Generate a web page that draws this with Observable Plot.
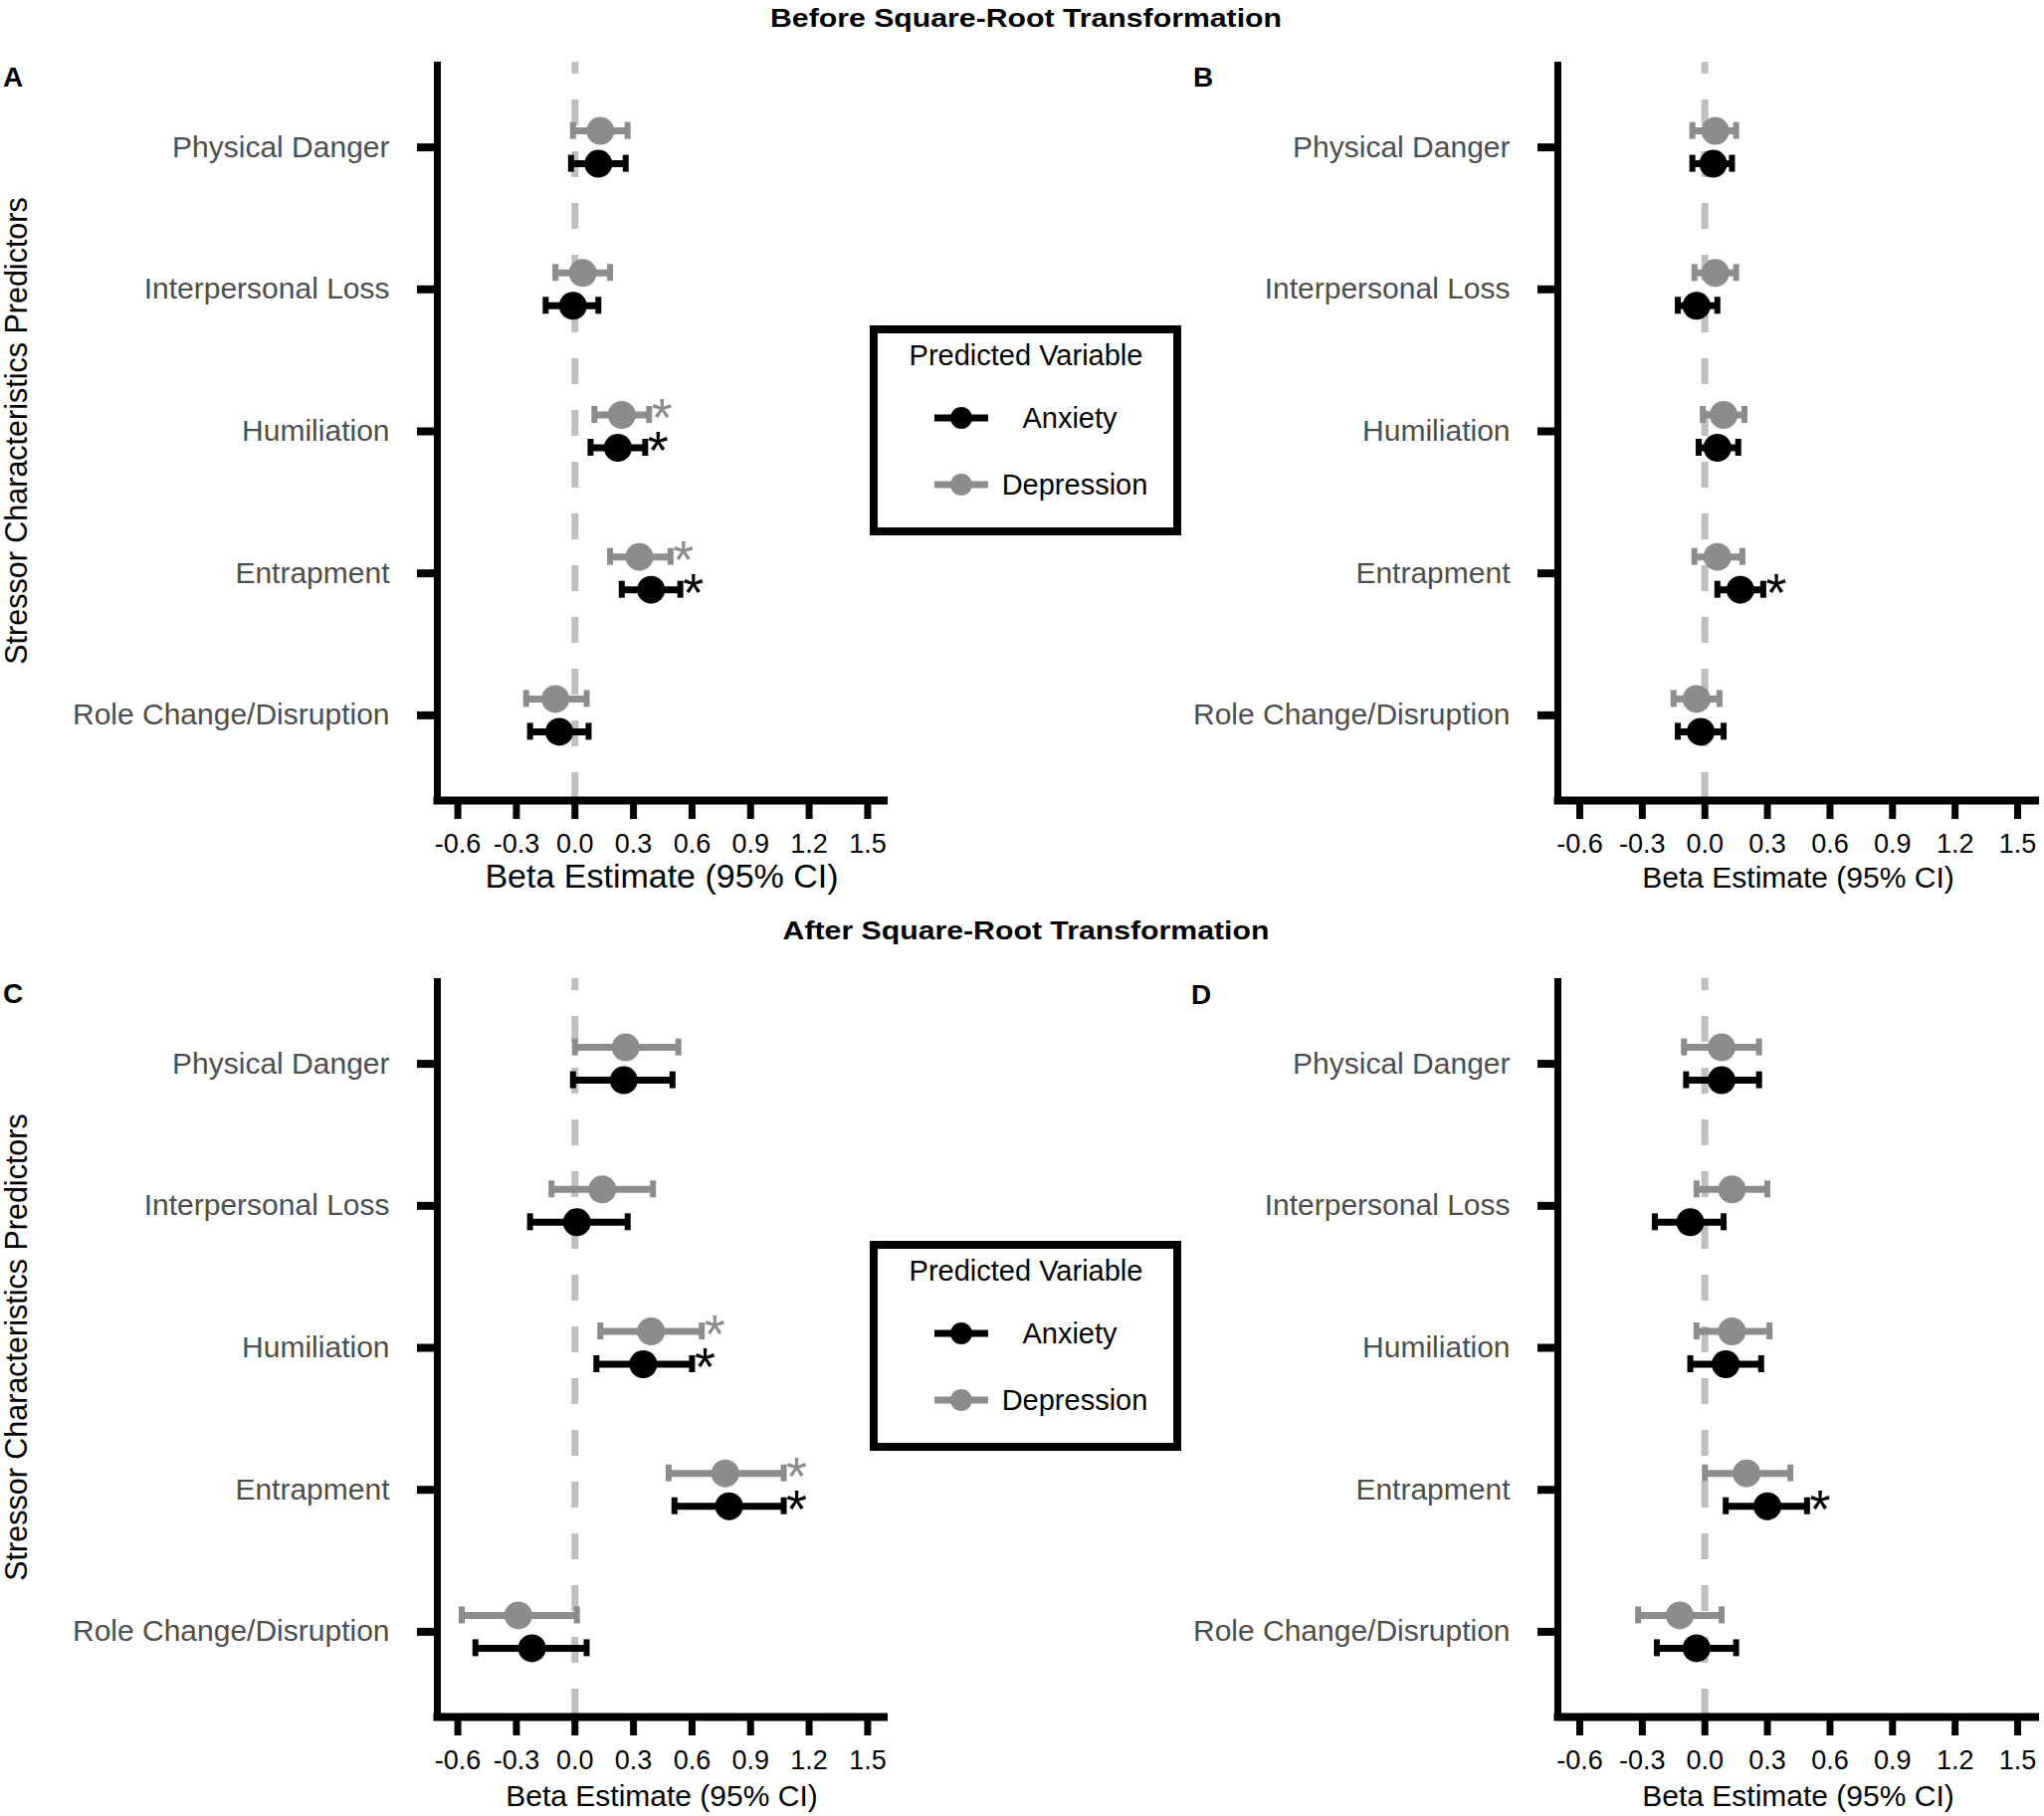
<!DOCTYPE html>
<html>
<head>
<meta charset="utf-8">
<script src="https://cdn.jsdelivr.net/npm/d3@7"></script>
<script src="https://cdn.jsdelivr.net/npm/@observablehq/plot@0.6"></script>
<style>
  html, body { margin: 0; padding: 0; background: #fff; overflow: hidden; }
  #figure { position: relative; width: 2054px; height: 1825px; background: #fff; }
  .panel { position: absolute; }
  .panel svg { display: block; max-width: none; }
  #annotations { position: absolute; left: 0; top: 0; pointer-events: none; }
</style>
</head>
<body>
<div id="figure"></div>
<script>
// Stressor characteristics (rows, top to bottom) and predicted outcomes
const categories = ["Physical Danger", "Interpersonal Loss", "Humiliation", "Entrapment", "Role Change/Disruption"];
const outcomes = ["Anxiety", "Depression"];
const xTicks = [-0.6, -0.3, 0.0, 0.3, 0.6, 0.9, 1.2, 1.5];
const xDomain = [-0.705, 1.605];
const yDomain = [5.6, 0.4];

// Beta estimates as [estimate, lower 95% CI, upper 95% CI], in category order
// A: before square-root transformation
const panelA_anxiety    = [[0.12, -0.02, 0.26], [-0.01, -0.15, 0.12], [0.22, 0.08, 0.36], [0.39, 0.24, 0.54], [-0.08, -0.23, 0.07]];
const panelA_depression = [[0.13, -0.01, 0.27], [0.04, -0.10, 0.18], [0.24, 0.10, 0.38], [0.33, 0.18, 0.49], [-0.10, -0.25, 0.06]];
const panelA_anxietySig    = [0, 0, 1, 1, 0];
const panelA_depressionSig = [0, 0, 1, 1, 0];

// B: before square-root transformation
const panelB_anxiety    = [[0.04, -0.06, 0.13], [-0.04, -0.13, 0.06], [0.06, -0.03, 0.16], [0.17, 0.06, 0.28], [-0.02, -0.13, 0.09]];
const panelB_depression = [[0.05, -0.06, 0.15], [0.05, -0.05, 0.15], [0.09, -0.01, 0.19], [0.06, -0.05, 0.18], [-0.04, -0.15, 0.07]];
const panelB_anxietySig    = [0, 0, 0, 1, 0];
const panelB_depressionSig = [0, 0, 0, 0, 0];

// C: after square-root transformation
const panelC_anxiety    = [[0.25, -0.01, 0.50], [0.01, -0.23, 0.27], [0.35, 0.11, 0.60], [0.79, 0.51, 1.07], [-0.22, -0.51, 0.06]];
const panelC_depression = [[0.26, 0.00, 0.53], [0.14, -0.12, 0.40], [0.39, 0.13, 0.65], [0.77, 0.48, 1.07], [-0.29, -0.58, 0.01]];
const panelC_anxietySig    = [0, 0, 1, 1, 0];
const panelC_depressionSig = [0, 0, 1, 1, 0];

// D: after square-root transformation
const panelD_anxiety    = [[0.08, -0.09, 0.26], [-0.07, -0.24, 0.09], [0.10, -0.07, 0.27], [0.30, 0.10, 0.49], [-0.04, -0.23, 0.15]];
const panelD_depression = [[0.08, -0.10, 0.26], [0.13, -0.04, 0.30], [0.13, -0.04, 0.31], [0.20, 0.00, 0.41], [-0.12, -0.32, 0.08]];
const panelD_anxietySig    = [0, 0, 0, 1, 0];
const panelD_depressionSig = [0, 0, 0, 0, 0];

const colors = {Anxiety: "#000000", Depression: "#8c8c8c"};
const dodge = {Anxiety: 16.5, Depression: -16.5}; // vertical dodge in px
const FONT = "'Liberation Sans', Arial, Helvetica, sans-serif";

function buildRows(anx, dep, anxSig, depSig) {
  const rows = [];
  categories.forEach((c, i) => {
    rows.push({category: c, idx: i + 1, outcome: "Anxiety", est: anx[i][0], lo: anx[i][1], hi: anx[i][2], sig: !!anxSig[i]});
    rows.push({category: c, idx: i + 1, outcome: "Depression", est: dep[i][0], lo: dep[i][1], hi: dep[i][2], sig: !!depSig[i]});
  });
  return rows;
}

function forestPanel(rows, {width, marginLeft, marginRight}) {
  const marks = [
    // reference line at zero
    Plot.ruleX([0], {stroke: "#bfbfbf", strokeWidth: 7, strokeDasharray: "26,26", strokeDashoffset: 14}),
    // axis lines
    Plot.ruleX([xDomain[0]], {stroke: "#000", strokeWidth: 7}),
    Plot.ruleY([yDomain[0]], {stroke: "#000", strokeWidth: 8, insetLeft: -3.5}),
    Plot.axisX({
      ticks: xTicks, tickFormat: d => d.toFixed(1), tickSize: 19, tickPadding: 14,
      stroke: "#000", fill: "#000", strokeWidth: 7, fontSize: 27, label: null
    }),
    Plot.axisY({
      ticks: categories.map((c, i) => i + 1), tickFormat: i => categories[i - 1],
      tickSize: 20, tickPadding: 28, stroke: "#000", fill: "#4d4d4d", strokeWidth: 8, fontSize: 30, label: null
    })
  ];
  for (const o of outcomes) {
    const data = rows.filter(d => d.outcome === o);
    const dy = dodge[o], c = colors[o];
    marks.push(
      Plot.ruleY(data, {x1: "lo", x2: "hi", y: "idx", dy, stroke: c, strokeWidth: 7}),
      Plot.ruleX(data, {x: "lo", y1: "idx", y2: "idx", dy, insetTop: -8.5, insetBottom: -8.5, stroke: c, strokeWidth: 6}),
      Plot.ruleX(data, {x: "hi", y1: "idx", y2: "idx", dy, insetTop: -8.5, insetBottom: -8.5, stroke: c, strokeWidth: 6}),
      Plot.dot(data, {x: "est", y: "idx", dy, r: 14, fill: c}),
      Plot.text(data.filter(d => d.sig), {x: "hi", y: "idx", text: () => "*", dx: 13, dy: dy + 4, fill: c, fontSize: 54})
    );
  }
  return Plot.plot({
    width, height: 920,
    marginLeft, marginRight, marginTop: 62, marginBottom: 116,
    style: {background: "transparent", fontFamily: FONT, overflow: "visible"},
    x: {domain: xDomain, label: null},
    y: {domain: yDomain, label: null},
    marks
  });
}

const figure = document.getElementById("figure");
function place(node, left, top) {
  const div = document.createElement("div");
  div.className = "panel";
  div.style.left = left + "px";
  div.style.top = top + "px";
  div.appendChild(node);
  figure.appendChild(div);
}

const leftGeom = {width: 900, marginLeft: 439, marginRight: 8};
const rightGeom = {width: 1054, marginLeft: 565, marginRight: 5};

place(forestPanel(buildRows(panelA_anxiety, panelA_depression, panelA_anxietySig, panelA_depressionSig), leftGeom), 0, 0);
place(forestPanel(buildRows(panelB_anxiety, panelB_depression, panelB_anxietySig, panelB_depressionSig), rightGeom), 1000, 0);
place(forestPanel(buildRows(panelC_anxiety, panelC_depression, panelC_anxietySig, panelC_depressionSig), leftGeom), 0, 921);
place(forestPanel(buildRows(panelD_anxiety, panelD_depression, panelD_anxietySig, panelD_depressionSig), rightGeom), 1000, 921);

// Titles, panel letters, axis titles and legends
const NS = "http://www.w3.org/2000/svg";
const ann = d3.select(figure).append("svg")
  .attr("id", "annotations")
  .attr("xmlns", NS)
  .attr("width", 2054).attr("height", 1825)
  .style("font-family", FONT);

function label(text, x, y, {size = 30, weight = "normal", anchor = "middle", fill = "#000", transform = ""} = {}) {
  ann.append("text")
    .attr("transform", `translate(${x},${y})${transform}`)
    .attr("text-anchor", anchor)
    .attr("font-size", size)
    .attr("font-weight", weight)
    .attr("fill", fill)
    .text(text);
}

label("Before Square-Root Transformation", 1031, 27, {size: 25, weight: "bold", transform: " scale(1.21,1)"});
label("After Square-Root Transformation", 1031, 944, {size: 25, weight: "bold", transform: " scale(1.21,1)"});

label("A", 3, 87, {size: 28, weight: "bold", anchor: "start"});
label("B", 1199, 87, {size: 28, weight: "bold", anchor: "start"});
label("C", 3, 1008, {size: 28, weight: "bold", anchor: "start"});
label("D", 1197, 1009, {size: 28, weight: "bold", anchor: "start"});

label("Stressor Characteristics Predictors", 27, 433, {size: 30.5, transform: " rotate(-90)"});
label("Stressor Characteristics Predictors", 27, 1354, {size: 30.5, transform: " rotate(-90)"});

label("Beta Estimate (95% CI)", 665, 892, {size: 34});
label("Beta Estimate (95% CI)", 1807, 892, {size: 30});
label("Beta Estimate (95% CI)", 665, 1815, {size: 30});
label("Beta Estimate (95% CI)", 1807, 1815, {size: 30});

function legend(top) {
  const g = ann.append("g").attr("transform", `translate(0,${top})`);
  g.append("rect").attr("x", 878).attr("y", 331).attr("width", 305).attr("height", 203)
    .attr("fill", "#fff").attr("stroke", "#000").attr("stroke-width", 8);
  g.append("text").attr("x", 1031).attr("y", 367).attr("text-anchor", "middle")
    .attr("font-size", 29).attr("fill", "#000").text("Predicted Variable");
  const keys = [{name: outcomes[0], y: 420, tx: 1075}, {name: outcomes[1], y: 487, tx: 1080}];
  for (const k of keys) {
    const c = colors[k.name];
    g.append("line").attr("x1", 939).attr("x2", 993).attr("y1", k.y).attr("y2", k.y)
      .attr("stroke", c).attr("stroke-width", 7);
    g.append("circle").attr("cx", 966).attr("cy", k.y).attr("r", 11).attr("fill", c);
    g.append("text").attr("x", k.tx).attr("y", k.y + 10).attr("text-anchor", "middle")
      .attr("font-size", 29).attr("fill", "#000").text(k.name);
  }
}
legend(0);
legend(920);
</script>
</body>
</html>
